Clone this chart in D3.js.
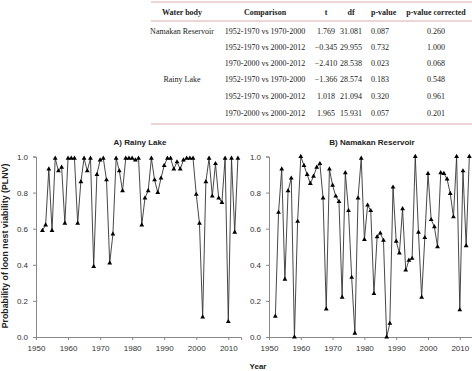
<!DOCTYPE html>
<html>
<head>
<meta charset="utf-8">
<script src="https://cdn.jsdelivr.net/npm/d3@7"></script>
<style>
  body { margin: 0; background: #fff; }
  svg { display: block; }
</style>
</head>
<body>
<div id="chart"></div>
<script>
// data
var years = d3.range(1952, 2014);
var rainy = [0.59, 0.62, 0.93, 0.59, 0.99, 0.92, 0.94, 0.63, 0.99, 0.99,
  0.99, 0.63, 0.86, 0.99, 0.92, 0.99, 0.39, 0.90, 0.98, 0.99,
  0.87, 0.41, 0.57, 0.99, 0.92, 0.81, 0.99, 0.99, 0.99, 0.98,
  0.99, 0.62, 0.77, 0.81, 0.99, 0.87, 0.80, 0.88, 0.95, 0.99,
  0.99, 0.93, 0.97, 0.93, 0.98, 0.99, 0.99, 0.99, 0.79, 0.63,
  0.11, 0.86, 0.99, 0.78, 0.96, 0.77, 0.745, 0.99, 0.085, 0.99,
  0.58, 0.99];
var namakan = [0.115, 0.69, 0.93, 0.32, 0.81, 0.88, 0.0, 0.64, 1.0, 0.95,
  0.90, 0.85, 0.89, 0.94, 0.96, 0.77, 0.155, 0.93, 0.84, 0.78,
  0.75, 0.22, 0.91, 0.70, 0.33, 0.02, 0.77, 0.99, 0.54, 0.73,
  0.70, 0.24, 0.555, 0.575, 0.535, 0.0, 0.075, 0.83, 0.53, 0.465,
  0.71, 0.37, 0.425, 0.435, 1.0, 0.58, 0.22, 0.55, 0.905, 0.65,
  0.61, 0.50, 0.91, 0.905, 0.875, 0.795, 0.665, 1.0, 0.15, 0.92,
  0.505, 1.0];

var yTicks = [0, 0.2, 0.4, 0.6, 0.8, 1.0];
var xTicks = [1950, 1960, 1970, 1980, 1990, 2000, 2010];

// table
var tableHead = ["Water body", "Comparison", "t", "df", "p-value", "p-value corrected"];
var tBody = ["Namakan Reservoir", "", "", "Rainy Lake", "", ""];
var tComp = ["1952-1970 vs 1970-2000", "1952-1970 vs 2000-2012", "1970-2000 vs 2000-2012",
  "1952-1970 vs 1970-2000", "1952-1970 vs 2000-2012", "1970-2000 vs 2000-2012"];
var tT = ["1.769", "\u22120.345", "\u22122.410", "\u22121.366", "1.018", "1.965"];
var tDf = ["31.081", "29.955", "28.538", "28.574", "21.094", "15.931"];
var tP = ["0.087", "0.732", "0.023", "0.183", "0.320", "0.057"];
var tPc = ["0.260", "1.000", "0.068", "0.548", "0.961", "0.201"];

var W = 472, H = 371;
var svg = d3.select("#chart").append("svg")
  .attr("width", W).attr("height", H);

// ---- table ----
var tbl = svg.append("g")
  .style("font-family", "'Liberation Serif', 'DejaVu Serif', serif")
  .style("font-size", "8px")
  .attr("fill", "#222");

[2, 21, 124].forEach(function(y) {
  tbl.append("line").attr("x1", 151).attr("x2", 472)
    .attr("y1", y).attr("y2", y)
    .attr("stroke", "#d9a9b0").attr("stroke-width", 1.2);
});

var colX = [182, 265, 326, 351, 371, 436];
var colAnchor = ["middle", "middle", "middle", "middle", "start", "middle"];
tbl.selectAll(".th").data(tableHead).enter().append("text")
  .attr("class", "th")
  .attr("x", function(d, i) { return colX[i]; })
  .attr("y", 15)
  .attr("text-anchor", function(d, i) { return colAnchor[i]; })
  .style("font-weight", "bold")
  .text(function(d) { return d; });

var rowY = [34, 50, 66, 82, 99, 116];
var cols = [tBody, tComp, tT, tDf, tP, tPc];
cols.forEach(function(col, c) {
  tbl.selectAll(".c" + c).data(col).enter().append("text")
    .attr("class", "c" + c)
    .attr("x", colX[c])
    .attr("y", function(d, i) { return rowY[i]; })
    .attr("text-anchor", colAnchor[c])
    .text(function(d) { return d; });
});

// ---- charts ----
var y = d3.scaleLinear().domain([0, 1]).range([337, 156.5]);

function panel(x0, perYear, values, title, titleX) {
  var x = d3.scaleLinear().domain([1950, 2014]).range([x0, x0 + 64 * perYear]);
  var g = svg.append("g")
    .style("font-family", "Arial, 'Liberation Sans', sans-serif");

  var xa = g.append("g").attr("transform", "translate(0,337)")
    .call(d3.axisBottom(x).tickValues(xTicks).tickSize(3).tickFormat(d3.format("d")));
  var ya = g.append("g").attr("transform", "translate(" + x0 + ",0)")
    .call(d3.axisLeft(y).tickValues(yTicks).tickSize(3).tickFormat(d3.format(".1f")));
  [xa, ya].forEach(function(a) {
    a.selectAll("path, line").attr("stroke", "#888");
    a.selectAll("text").attr("fill", "#333").style("font-size", "8px")
      .style("font-family", "Arial, 'Liberation Sans', sans-serif");
  });
  xa.selectAll("text").attr("dy", "1.05em");
  ya.selectAll("text").attr("dx", "-2px");

  var line = d3.line()
    .x(function(d, i) { return x(years[i]); })
    .y(function(d) { return y(d); });
  g.append("path").datum(values)
    .attr("d", line)
    .attr("fill", "none")
    .attr("stroke", "#333")
    .attr("stroke-width", 0.9);

  g.selectAll(".pt").data(values).enter().append("path")
    .attr("class", "pt")
    .attr("d", d3.symbol().type(d3.symbolTriangle).size(10))
    .attr("transform", function(d, i) { return "translate(" + x(years[i]) + "," + y(d) + ")"; })
    .attr("fill", "#000");

  g.append("text").attr("x", titleX).attr("y", 145)
    .attr("text-anchor", "middle")
    .style("font-size", "8px").style("font-weight", "bold")
    .attr("fill", "#222")
    .text(title);
}

panel(36, 3.205, rainy, "A) Rainy Lake", 140);
panel(269, 3.18, namakan, "B) Namakan Reservoir", 372);

svg.append("text")
  .attr("transform", "translate(8,246) rotate(-90)")
  .attr("text-anchor", "middle")
  .style("font-family", "Arial, 'Liberation Sans', sans-serif")
  .style("font-size", "8.8px").style("font-weight", "bold")
  .attr("fill", "#222")
  .text("Probability of loon nest viability (PLNV)");

svg.append("text")
  .attr("x", 258).attr("y", 369)
  .attr("text-anchor", "middle")
  .style("font-family", "Arial, 'Liberation Sans', sans-serif")
  .style("font-size", "8px").style("font-weight", "bold")
  .attr("fill", "#222")
  .text("Year");
</script>
</body>
</html>
